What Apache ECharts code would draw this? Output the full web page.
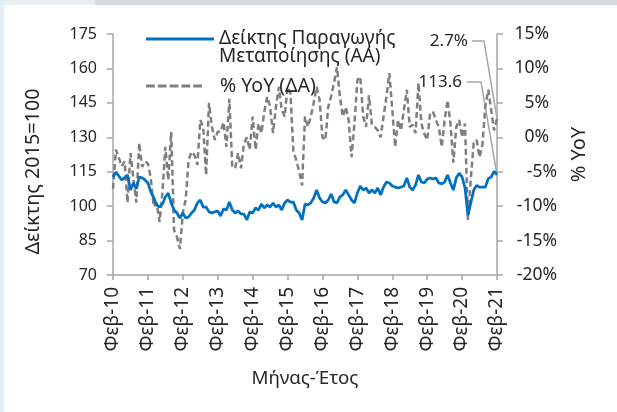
<!DOCTYPE html>
<html>
<head>
<meta charset="utf-8">
<script src="https://cdn.jsdelivr.net/npm/echarts@6/dist/echarts.min.js"></script>
<style>
html,body{margin:0;padding:0;background:#ffffff;}
#wrap{position:relative;width:617px;height:412px;overflow:hidden;background:#ffffff;}
#stripL{position:absolute;left:0;top:0;width:4px;height:412px;background:#e8eef6;}
#stripTL{position:absolute;left:0;top:0;width:95px;height:5px;background:#e8eef6;}
#stripT{position:absolute;left:95px;top:0;width:522px;height:5px;background:#d5dbe2;}
#chart{position:absolute;left:0;top:0;width:617px;height:412px;}
</style>
</head>
<body>
<div id="wrap">
<div id="stripL"></div><div id="stripTL"></div><div id="stripT"></div>
<div id="chart"></div>
</div>
<script>
// Categories (month-year), Feb-10 .. Feb-21
const categories = [
 'Φεβ-10','Μαρ-10','Απρ-10','Μαϊ-10','Ιουν-10','Ιουλ-10','Αυγ-10','Σεπ-10','Οκτ-10','Νοε-10','Δεκ-10','Ιαν-11',
 'Φεβ-11','Μαρ-11','Απρ-11','Μαϊ-11','Ιουν-11','Ιουλ-11','Αυγ-11','Σεπ-11','Οκτ-11','Νοε-11','Δεκ-11','Ιαν-12',
 'Φεβ-12','Μαρ-12','Απρ-12','Μαϊ-12','Ιουν-12','Ιουλ-12','Αυγ-12','Σεπ-12','Οκτ-12','Νοε-12','Δεκ-12','Ιαν-13',
 'Φεβ-13','Μαρ-13','Απρ-13','Μαϊ-13','Ιουν-13','Ιουλ-13','Αυγ-13','Σεπ-13','Οκτ-13','Νοε-13','Δεκ-13','Ιαν-14',
 'Φεβ-14','Μαρ-14','Απρ-14','Μαϊ-14','Ιουν-14','Ιουλ-14','Αυγ-14','Σεπ-14','Οκτ-14','Νοε-14','Δεκ-14','Ιαν-15',
 'Φεβ-15','Μαρ-15','Απρ-15','Μαϊ-15','Ιουν-15','Ιουλ-15','Αυγ-15','Σεπ-15','Οκτ-15','Νοε-15','Δεκ-15','Ιαν-16',
 'Φεβ-16','Μαρ-16','Απρ-16','Μαϊ-16','Ιουν-16','Ιουλ-16','Αυγ-16','Σεπ-16','Οκτ-16','Νοε-16','Δεκ-16','Ιαν-17',
 'Φεβ-17','Μαρ-17','Απρ-17','Μαϊ-17','Ιουν-17','Ιουλ-17','Αυγ-17','Σεπ-17','Οκτ-17','Νοε-17','Δεκ-17','Ιαν-18',
 'Φεβ-18','Μαρ-18','Απρ-18','Μαϊ-18','Ιουν-18','Ιουλ-18','Αυγ-18','Σεπ-18','Οκτ-18','Νοε-18','Δεκ-18','Ιαν-19',
 'Φεβ-19','Μαρ-19','Απρ-19','Μαϊ-19','Ιουν-19','Ιουλ-19','Αυγ-19','Σεπ-19','Οκτ-19','Νοε-19','Δεκ-19','Ιαν-20',
 'Φεβ-20','Μαρ-20','Απρ-20','Μαϊ-20','Ιουν-20','Ιουλ-20','Αυγ-20','Σεπ-20','Οκτ-20','Νοε-20','Δεκ-20','Ιαν-21',
 'Φεβ-21'
];

// Manufacturing production index (2015=100), left axis
const indexValues = [
 112.7,114.9,113.1,111.4,112.3,113.6,107.0,110.1,107.5,112.7,112.3,111.4,
 110.1,106.2,103.6,100.5,99.6,100.9,104.0,105.7,101.4,98.3,97.0,94.8,
 97.0,94.8,95.3,97.0,98.3,101.4,102.7,99.6,99.6,97.5,97.0,97.5,
 97.9,95.7,98.8,98.3,101.8,98.3,97.0,97.9,96.6,96.5,94.0,97.5,
 97.0,99.2,98.3,100.9,99.2,100.5,99.6,101.4,99.6,100.5,98.3,101.4,
 102.7,101.8,101.8,98.3,97.0,94.0,100.9,100.5,101.4,103.6,107.0,103.6,
 101.8,101.4,102.7,105.3,101.8,101.4,104.0,104.9,107.0,104.9,102.7,101.4,
 105.7,108.8,107.0,107.9,105.7,107.0,105.7,107.9,104.9,108.3,110.5,110.1,
 108.8,108.3,107.9,108.3,108.8,112.3,108.3,107.0,109.2,113.6,110.5,110.1,
 111.8,112.3,111.8,112.3,110.1,109.7,110.5,113.6,110.1,107.0,112.3,114.4,
 112.7,108.0,96.0,101.5,107.0,109.0,108.3,108.3,108.3,112.0,112.7,115.2,
 113.6
];

// Year-on-year change (%), right axis
const yoyValues = [
 -7.5,-1.8,-3.0,-4.2,-3.5,-9.5,-2.3,-6.0,-9.5,-0.8,-4.3,-3.5,
 -3.8,-6.0,-10.1,-9.5,-12.3,-8.0,-1.4,-6.2,0.8,-13.5,-14.5,-16.2,
 -11.0,-9.0,-3.3,-2.1,-2.6,-4.0,2.5,1.5,-5.5,5.0,1.5,-0.4,
 0.8,0.8,2.2,-1.4,5.6,-4.3,-4.5,-2.3,-4.5,-1.0,0.0,-1.8,
 3.0,-1.8,2.0,0.6,3.7,5.9,4.4,0.6,4.4,7.3,4.0,3.0,
 7.3,6.4,-2.0,-3.3,-5.0,-7.0,3.0,1.5,3.0,5.0,7.3,5.5,
 0.0,-0.4,4.4,6.0,7.9,10.2,5.9,3.0,4.4,2.5,-2.9,2.0,
 8.3,8.8,3.0,1.5,6.1,1.8,1.5,1.0,0.0,3.0,5.9,9.3,
 4.0,-1.4,2.5,1.0,4.0,6.9,1.5,1.8,0.6,7.9,2.0,0.5,
 -0.4,3.5,3.7,2.5,1.5,-1.4,2.5,5.4,2.0,-3.7,1.5,2.5,
 0.0,2.0,-12.0,-6.0,-0.8,-0.4,-2.9,-1.0,4.5,6.9,4.0,1.0,
 2.7
];

const leftTicks = {min: 70, max: 175, interval: 15};
const rightTicks = {min: -20, max: 15, interval: 5};

const seriesNames = ['Δείκτης Παραγωγής\nΜεταποίησης (ΑΑ)', '% YoY (ΔΑ)'];

const FONT = '"Noto Sans", "DejaVu Sans", sans-serif';
const TXT = '#262626';
const AX = '#a6a6a6';
const BLUE = '#0070c0';
const GREY = '#7f7f7f';

// legend key shapes (solid bar and a dashed bar)
const solidKey = 'path://M0,0H68V3H0Z';
const dashedKey = 'path://M0,0h8.8v3h-8.8Z M11.8,0h8.8v3h-8.8Z M23.6,0h8.8v3h-8.8Z M35.4,0h8.8v3h-8.8Z M47.2,0h8.8v3h-8.8Z';

const chart = echarts.init(document.getElementById('chart'), null, {renderer: 'canvas'});

chart.setOption({
  animation: false,
  backgroundColor: 'transparent',
  textStyle: {fontFamily: FONT},
  grid: {left: 113, right: 120, top: 34, bottom: 137, containLabel: false},
  legend: [
    {
      data: [{name: seriesNames[0], icon: solidKey, itemStyle: {color: BLUE}}],
      // a blank first line keeps the key level with the first text line
      formatter: function (name) { return ' \n' + name; },
      left: 146, top: 11.5, padding: 0,
      itemWidth: 68, itemHeight: 3,
      textStyle: {color: TXT, fontFamily: FONT, fontSize: 19, lineHeight: 18},
      selectedMode: false
    },
    {
      data: [{name: seriesNames[1], icon: dashedKey, itemStyle: {color: GREY}, textStyle: {padding: [0, 0, 0, 13]}}],
      left: 146, top: 76, padding: 0,
      itemWidth: 56, itemHeight: 3,
      textStyle: {color: TXT, fontFamily: FONT, fontSize: 19.5, lineHeight: 18},
      selectedMode: false
    }
  ],
  xAxis: {
    type: 'category',
    data: categories,
    boundaryGap: false,
    name: 'Μήνας-Έτος',
    nameLocation: 'middle',
    nameGap: 94,
    nameTextStyle: {color: TXT, fontFamily: FONT, fontSize: 18.7},
    axisLine: {show: true, onZero: false, lineStyle: {color: AX, width: 1.5}},
    axisTick: {show: true, interval: 11, length: 5, lineStyle: {color: AX, width: 1.5}},
    axisLabel: {color: TXT, fontFamily: FONT, fontSize: 19, interval: 11, rotate: 90, margin: 12},
    splitLine: {show: false}
  },
  yAxis: [
    {
      type: 'value', position: 'left',
      min: leftTicks.min, max: leftTicks.max, interval: leftTicks.interval,
      name: 'Δείκτης 2015=100', nameLocation: 'middle', nameGap: 70,
      nameTextStyle: {color: TXT, fontFamily: FONT, fontSize: 19.8, padding: [0, 34, 0, 0]},
      axisLine: {show: true, onZero: false, lineStyle: {color: AX, width: 1.5}},
      axisTick: {show: true, length: 6, lineStyle: {color: AX, width: 1.5}},
      axisLabel: {color: TXT, fontFamily: FONT, fontSize: 16, margin: 16},
      splitLine: {show: false}
    },
    {
      type: 'value', position: 'right',
      min: rightTicks.min, max: rightTicks.max, interval: rightTicks.interval,
      name: '% YoY', nameLocation: 'middle', nameGap: 72,
      nameTextStyle: {color: TXT, fontFamily: FONT, fontSize: 20},
      axisLine: {show: true, onZero: false, lineStyle: {color: AX, width: 1.5}},
      axisTick: {show: true, length: 6, lineStyle: {color: AX, width: 1.5}},
      axisLabel: {
        color: TXT, fontFamily: FONT, fontSize: 17.5, margin: 60, align: 'right',
        formatter: function (v) { return v >= 0 ? v + '%{sp| }' : v + '%'; },
        rich: {sp: {width: 8, fontSize: 17.5}}
      },
      splitLine: {show: false}
    }
  ],
  series: [
    {
      name: seriesNames[1], type: 'line', yAxisIndex: 1, data: yoyValues,
      showSymbol: false, symbol: 'none', z: 2,
      lineStyle: {color: GREY, width: 2.5, type: [6, 3.5]},
      itemStyle: {color: GREY}
    },
    {
      name: seriesNames[0], type: 'line', yAxisIndex: 0, data: indexValues,
      showSymbol: false, symbol: 'none', z: 3,
      lineStyle: {color: BLUE, width: 2.75},
      itemStyle: {color: BLUE}
    }
  ]
});

// Annotations for the last values with leader lines
const last = categories.length - 1;
const pIdx = chart.convertToPixel({xAxisIndex: 0, yAxisIndex: 0}, [last, indexValues[last]]);
const pYoy = chart.convertToPixel({xAxisIndex: 0, yAxisIndex: 1}, [last, yoyValues[last]]);
const leader = {stroke: AX, lineWidth: 1.5, fill: null};
chart.setOption({
  graphic: [
    {type: 'text', x: 468, y: 41, style: {text: yoyValues[last].toFixed(1) + '%', align: 'right', verticalAlign: 'middle', fill: TXT, font: '17px ' + FONT}},
    {type: 'polyline', shape: {points: [[472, 41], [484, 41], [pYoy[0], pYoy[1]]]}, style: leader},
    {type: 'text', x: 462, y: 82, style: {text: indexValues[last].toFixed(1), align: 'right', verticalAlign: 'middle', fill: TXT, font: '17px ' + FONT}},
    {type: 'polyline', shape: {points: [[467, 82], [481, 82], [pIdx[0], pIdx[1]]]}, style: leader}
  ]
});
</script>
</body>
</html>
